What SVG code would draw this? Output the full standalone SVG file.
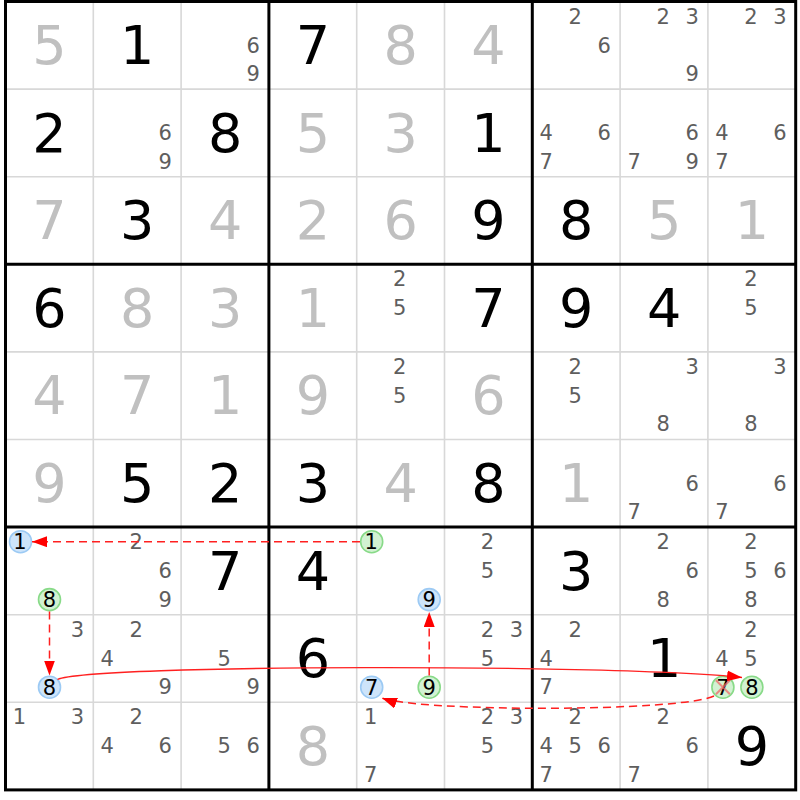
<svg xmlns="http://www.w3.org/2000/svg" width="800" height="800" viewBox="0 0 800 800">
<style>
text{font-family:"DejaVu Sans","Liberation Sans",sans-serif;text-anchor:middle}
.b{font-size:54px;fill:#000}
.g{font-size:54px;fill:#c0c0c0}
.c{font-size:21px;fill:#5e5e5e}
.k{font-size:21px;fill:#000}
.thin{stroke:#d8d8d8;stroke-width:1.6}
.thick{stroke:#000;stroke-width:3}
.cb{fill:#cde4fa;stroke:#9ccaf4;stroke-width:1.6}
.cg{fill:#d2f2d2;stroke:#88da88;stroke-width:1.6}
.dash{fill:none;stroke:#ff2020;stroke-width:1.5;stroke-dasharray:8 5}
.solid{fill:none;stroke:#ff2020;stroke-width:1.3}
</style>
<defs>
<marker id="ah" markerUnits="userSpaceOnUse" markerWidth="16" markerHeight="12" refX="15" refY="5.5" orient="auto">
<path d="M0,0 L15,5.5 L0,11 z" fill="#ff0000"/>
</marker>
</defs>
<rect x="0" y="0" width="800" height="800" fill="#fff"/>
<g id="grid">
<path class="thin" d="M93.3,1.5V789.9M181.1,1.5V789.9M356.7,1.5V789.9M444.5,1.5V789.9M620.1,1.5V789.9M707.9,1.5V789.9M5.5,89.1H795.7M5.5,176.7H795.7M5.5,351.9H795.7M5.5,439.5H795.7M5.5,614.7H795.7M5.5,702.3H795.7"/>
<path class="thick" d="M268.9,1.5V789.9M532.3,1.5V789.9M5.5,264.3H795.7M5.5,527.1H795.7"/>
<rect x="5.5" y="1.5" width="790.2" height="788.4" fill="none" stroke="#000" stroke-width="3"/>
</g>
<!-- row 0 -->
<g id="r0c0" transform="translate(5.5,1.5)"><text class="g" x="44" y="62.5">5</text></g>
<g id="r0c1" transform="translate(93.3,1.5)"><text class="b" x="44" y="62.5">1</text></g>
<g id="r0c2" transform="translate(181.1,1.5)"><text class="c" x="72" y="51.2">6</text><text class="c" x="72" y="79.6">9</text></g>
<g id="r0c3" transform="translate(268.9,1.5)"><text class="b" x="44" y="62.5">7</text></g>
<g id="r0c4" transform="translate(356.7,1.5)"><text class="g" x="44" y="62.5">8</text></g>
<g id="r0c5" transform="translate(444.5,1.5)"><text class="g" x="44" y="62.5">4</text></g>
<g id="r0c6" transform="translate(532.3,1.5)"><text class="c" x="43" y="22.2">2</text><text class="c" x="72" y="51.2">6</text></g>
<g id="r0c7" transform="translate(620.1,1.5)"><text class="c" x="43" y="22.2">2</text><text class="c" x="72" y="22.2">3</text><text class="c" x="72" y="79.6">9</text></g>
<g id="r0c8" transform="translate(707.9,1.5)"><text class="c" x="43" y="22.2">2</text><text class="c" x="72" y="22.2">3</text></g>
<!-- row 1 -->
<g id="r1c0" transform="translate(5.5,89.1)"><text class="b" x="44" y="62.5">2</text></g>
<g id="r1c1" transform="translate(93.3,89.1)"><text class="c" x="72" y="51.2">6</text><text class="c" x="72" y="79.6">9</text></g>
<g id="r1c2" transform="translate(181.1,89.1)"><text class="b" x="44" y="62.5">8</text></g>
<g id="r1c3" transform="translate(268.9,89.1)"><text class="g" x="44" y="62.5">5</text></g>
<g id="r1c4" transform="translate(356.7,89.1)"><text class="g" x="44" y="62.5">3</text></g>
<g id="r1c5" transform="translate(444.5,89.1)"><text class="b" x="44" y="62.5">1</text></g>
<g id="r1c6" transform="translate(532.3,89.1)"><text class="c" x="14" y="51.2">4</text><text class="c" x="72" y="51.2">6</text><text class="c" x="14" y="79.6">7</text></g>
<g id="r1c7" transform="translate(620.1,89.1)"><text class="c" x="72" y="51.2">6</text><text class="c" x="14" y="79.6">7</text><text class="c" x="72" y="79.6">9</text></g>
<g id="r1c8" transform="translate(707.9,89.1)"><text class="c" x="14" y="51.2">4</text><text class="c" x="72" y="51.2">6</text><text class="c" x="14" y="79.6">7</text></g>
<!-- row 2 -->
<g id="r2c0" transform="translate(5.5,176.7)"><text class="g" x="44" y="62.5">7</text></g>
<g id="r2c1" transform="translate(93.3,176.7)"><text class="b" x="44" y="62.5">3</text></g>
<g id="r2c2" transform="translate(181.1,176.7)"><text class="g" x="44" y="62.5">4</text></g>
<g id="r2c3" transform="translate(268.9,176.7)"><text class="g" x="44" y="62.5">2</text></g>
<g id="r2c4" transform="translate(356.7,176.7)"><text class="g" x="44" y="62.5">6</text></g>
<g id="r2c5" transform="translate(444.5,176.7)"><text class="b" x="44" y="62.5">9</text></g>
<g id="r2c6" transform="translate(532.3,176.7)"><text class="b" x="44" y="62.5">8</text></g>
<g id="r2c7" transform="translate(620.1,176.7)"><text class="g" x="44" y="62.5">5</text></g>
<g id="r2c8" transform="translate(707.9,176.7)"><text class="g" x="44" y="62.5">1</text></g>
<!-- row 3 -->
<g id="r3c0" transform="translate(5.5,264.3)"><text class="b" x="44" y="62.5">6</text></g>
<g id="r3c1" transform="translate(93.3,264.3)"><text class="g" x="44" y="62.5">8</text></g>
<g id="r3c2" transform="translate(181.1,264.3)"><text class="g" x="44" y="62.5">3</text></g>
<g id="r3c3" transform="translate(268.9,264.3)"><text class="g" x="44" y="62.5">1</text></g>
<g id="r3c4" transform="translate(356.7,264.3)"><text class="c" x="43" y="22.2">2</text><text class="c" x="43" y="51.2">5</text></g>
<g id="r3c5" transform="translate(444.5,264.3)"><text class="b" x="44" y="62.5">7</text></g>
<g id="r3c6" transform="translate(532.3,264.3)"><text class="b" x="44" y="62.5">9</text></g>
<g id="r3c7" transform="translate(620.1,264.3)"><text class="b" x="44" y="62.5">4</text></g>
<g id="r3c8" transform="translate(707.9,264.3)"><text class="c" x="43" y="22.2">2</text><text class="c" x="43" y="51.2">5</text></g>
<!-- row 4 -->
<g id="r4c0" transform="translate(5.5,351.9)"><text class="g" x="44" y="62.5">4</text></g>
<g id="r4c1" transform="translate(93.3,351.9)"><text class="g" x="44" y="62.5">7</text></g>
<g id="r4c2" transform="translate(181.1,351.9)"><text class="g" x="44" y="62.5">1</text></g>
<g id="r4c3" transform="translate(268.9,351.9)"><text class="g" x="44" y="62.5">9</text></g>
<g id="r4c4" transform="translate(356.7,351.9)"><text class="c" x="43" y="22.2">2</text><text class="c" x="43" y="51.2">5</text></g>
<g id="r4c5" transform="translate(444.5,351.9)"><text class="g" x="44" y="62.5">6</text></g>
<g id="r4c6" transform="translate(532.3,351.9)"><text class="c" x="43" y="22.2">2</text><text class="c" x="43" y="51.2">5</text></g>
<g id="r4c7" transform="translate(620.1,351.9)"><text class="c" x="72" y="22.2">3</text><text class="c" x="43" y="79.6">8</text></g>
<g id="r4c8" transform="translate(707.9,351.9)"><text class="c" x="72" y="22.2">3</text><text class="c" x="43" y="79.6">8</text></g>
<!-- row 5 -->
<g id="r5c0" transform="translate(5.5,439.5)"><text class="g" x="44" y="62.5">9</text></g>
<g id="r5c1" transform="translate(93.3,439.5)"><text class="b" x="44" y="62.5">5</text></g>
<g id="r5c2" transform="translate(181.1,439.5)"><text class="b" x="44" y="62.5">2</text></g>
<g id="r5c3" transform="translate(268.9,439.5)"><text class="b" x="44" y="62.5">3</text></g>
<g id="r5c4" transform="translate(356.7,439.5)"><text class="g" x="44" y="62.5">4</text></g>
<g id="r5c5" transform="translate(444.5,439.5)"><text class="b" x="44" y="62.5">8</text></g>
<g id="r5c6" transform="translate(532.3,439.5)"><text class="g" x="44" y="62.5">1</text></g>
<g id="r5c7" transform="translate(620.1,439.5)"><text class="c" x="72" y="51.2">6</text><text class="c" x="14" y="79.6">7</text></g>
<g id="r5c8" transform="translate(707.9,439.5)"><text class="c" x="72" y="51.2">6</text><text class="c" x="14" y="79.6">7</text></g>
<!-- row 6 -->
<g id="r6c0" transform="translate(5.5,527.1)"><circle class="cb" cx="15" cy="14.6" r="11"/><text class="k" x="14.5" y="22.2">1</text><circle class="cg" cx="44" cy="72.5" r="11"/><text class="k" x="44" y="80.1">8</text></g>
<g id="r6c1" transform="translate(93.3,527.1)"><text class="c" x="43" y="22.2">2</text><text class="c" x="72" y="51.2">6</text><text class="c" x="72" y="79.6">9</text></g>
<g id="r6c2" transform="translate(181.1,527.1)"><text class="b" x="44" y="62.5">7</text></g>
<g id="r6c3" transform="translate(268.9,527.1)"><text class="b" x="44" y="62.5">4</text></g>
<g id="r6c4" transform="translate(356.7,527.1)"><circle class="cg" cx="15" cy="14.6" r="11"/><text class="k" x="14.5" y="22.2">1</text><circle class="cb" cx="72.5" cy="72.5" r="11"/><text class="k" x="72.5" y="80.1">9</text></g>
<g id="r6c5" transform="translate(444.5,527.1)"><text class="c" x="43" y="22.2">2</text><text class="c" x="43" y="51.2">5</text></g>
<g id="r6c6" transform="translate(532.3,527.1)"><text class="b" x="44" y="62.5">3</text></g>
<g id="r6c7" transform="translate(620.1,527.1)"><text class="c" x="43" y="22.2">2</text><text class="c" x="72" y="51.2">6</text><text class="c" x="43" y="79.6">8</text></g>
<g id="r6c8" transform="translate(707.9,527.1)"><text class="c" x="43" y="22.2">2</text><text class="c" x="43" y="51.2">5</text><text class="c" x="72" y="51.2">6</text><text class="c" x="43" y="79.6">8</text></g>
<!-- row 7 -->
<g id="r7c0" transform="translate(5.5,614.7)"><text class="c" x="72" y="22.2">3</text><circle class="cb" cx="44" cy="72.5" r="11"/><text class="k" x="44" y="80.1">8</text></g>
<g id="r7c1" transform="translate(93.3,614.7)"><text class="c" x="43" y="22.2">2</text><text class="c" x="14" y="51.2">4</text><text class="c" x="72" y="79.6">9</text></g>
<g id="r7c2" transform="translate(181.1,614.7)"><text class="c" x="43" y="51.2">5</text><text class="c" x="72" y="79.6">9</text></g>
<g id="r7c3" transform="translate(268.9,614.7)"><text class="b" x="44" y="62.5">6</text></g>
<g id="r7c4" transform="translate(356.7,614.7)"><circle class="cb" cx="15" cy="72.5" r="11"/><text class="k" x="15" y="80.1">7</text><circle class="cg" cx="72.5" cy="72.5" r="11"/><text class="k" x="72.5" y="80.1">9</text></g>
<g id="r7c5" transform="translate(444.5,614.7)"><text class="c" x="43" y="22.2">2</text><text class="c" x="72" y="22.2">3</text><text class="c" x="43" y="51.2">5</text></g>
<g id="r7c6" transform="translate(532.3,614.7)"><text class="c" x="43" y="22.2">2</text><text class="c" x="14" y="51.2">4</text><text class="c" x="14" y="79.6">7</text></g>
<g id="r7c7" transform="translate(620.1,614.7)"><text class="b" x="44" y="62.5">1</text></g>
<g id="r7c8" transform="translate(707.9,614.7)"><text class="c" x="43" y="22.2">2</text><text class="c" x="14" y="51.2">4</text><text class="c" x="43" y="51.2">5</text><circle class="cg" cx="15" cy="72.5" r="11"/><text class="k" x="15" y="80.1">7</text><circle class="cg" cx="44" cy="72.5" r="11"/><text class="k" x="44" y="80.1">8</text><path d="M8,65.5 L22,79.5 M22,65.5 L8,79.5" stroke="#f06868" stroke-opacity="0.75" stroke-width="2" fill="none"/></g>
<!-- row 8 -->
<g id="r8c0" transform="translate(5.5,702.3)"><text class="c" x="14" y="22.2">1</text><text class="c" x="72" y="22.2">3</text></g>
<g id="r8c1" transform="translate(93.3,702.3)"><text class="c" x="43" y="22.2">2</text><text class="c" x="14" y="51.2">4</text><text class="c" x="72" y="51.2">6</text></g>
<g id="r8c2" transform="translate(181.1,702.3)"><text class="c" x="43" y="51.2">5</text><text class="c" x="72" y="51.2">6</text></g>
<g id="r8c3" transform="translate(268.9,702.3)"><text class="g" x="44" y="62.5">8</text></g>
<g id="r8c4" transform="translate(356.7,702.3)"><text class="c" x="14" y="22.2">1</text><text class="c" x="14" y="79.6">7</text></g>
<g id="r8c5" transform="translate(444.5,702.3)"><text class="c" x="43" y="22.2">2</text><text class="c" x="72" y="22.2">3</text><text class="c" x="43" y="51.2">5</text></g>
<g id="r8c6" transform="translate(532.3,702.3)"><text class="c" x="43" y="22.2">2</text><text class="c" x="14" y="51.2">4</text><text class="c" x="43" y="51.2">5</text><text class="c" x="72" y="51.2">6</text><text class="c" x="14" y="79.6">7</text></g>
<g id="r8c7" transform="translate(620.1,702.3)"><text class="c" x="43" y="22.2">2</text><text class="c" x="72" y="51.2">6</text><text class="c" x="14" y="79.6">7</text></g>
<g id="r8c8" transform="translate(707.9,702.3)"><text class="b" x="44" y="62.5">9</text></g>
<g id="connectors">
<path class="dash" d="M360,541.7 L32,541.7" marker-end="url(#ah)"/>
<path class="dash" d="M49.5,611.5 L49.5,675.5" marker-end="url(#ah)"/>
<path class="solid" d="M57.5,679.5 C90,664 620,664 742,677.5" marker-end="url(#ah)"/>
<path class="dash" d="M429.2,675.5 L429.2,612" marker-end="url(#ah)"/>
<path class="dash" d="M714,696 C680,712 420,712 382,698" marker-end="url(#ah)"/>
</g>
</svg>
